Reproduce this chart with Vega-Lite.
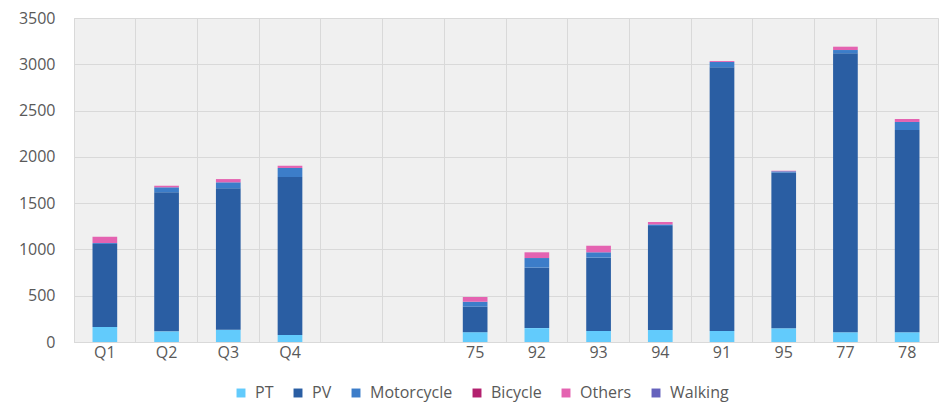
{
  "$schema": "https://vega.github.io/schema/vega-lite/v6.json",
  "autosize": {"type": "none"},
  "width": 864,
  "height": 324,
  "padding": {"left": 74, "top": 18, "right": 2, "bottom": 67},
  "background": "#ffffff",
  "config": {
    "font": "Open Sans",
    "view": {"fill": "#f0f0f0", "stroke": "#d9d9d9", "strokeWidth": 1}
  },
  "data": {
    "values": [
      {"site": "Q1", "mode": "PT", "value": 162}, {"site": "Q1", "mode": "PV", "value": 897}, {"site": "Q1", "mode": "Motorcycle", "value": 10}, {"site": "Q1", "mode": "Bicycle", "value": 0}, {"site": "Q1", "mode": "Others", "value": 68}, {"site": "Q1", "mode": "Walking", "value": 0},
      {"site": "Q2", "mode": "PT", "value": 115}, {"site": "Q2", "mode": "PV", "value": 1502}, {"site": "Q2", "mode": "Motorcycle", "value": 54}, {"site": "Q2", "mode": "Bicycle", "value": 0}, {"site": "Q2", "mode": "Others", "value": 17}, {"site": "Q2", "mode": "Walking", "value": 0},
      {"site": "Q3", "mode": "PT", "value": 133}, {"site": "Q3", "mode": "PV", "value": 1527}, {"site": "Q3", "mode": "Motorcycle", "value": 65}, {"site": "Q3", "mode": "Bicycle", "value": 0}, {"site": "Q3", "mode": "Others", "value": 35}, {"site": "Q3", "mode": "Walking", "value": 0},
      {"site": "Q4", "mode": "PT", "value": 76}, {"site": "Q4", "mode": "PV", "value": 1706}, {"site": "Q4", "mode": "Motorcycle", "value": 98}, {"site": "Q4", "mode": "Bicycle", "value": 0}, {"site": "Q4", "mode": "Others", "value": 24}, {"site": "Q4", "mode": "Walking", "value": 0},
      {"site": "75", "mode": "PT", "value": 106}, {"site": "75", "mode": "PV", "value": 275}, {"site": "75", "mode": "Motorcycle", "value": 54}, {"site": "75", "mode": "Bicycle", "value": 0}, {"site": "75", "mode": "Others", "value": 51}, {"site": "75", "mode": "Walking", "value": 0},
      {"site": "92", "mode": "PT", "value": 150}, {"site": "92", "mode": "PV", "value": 653}, {"site": "92", "mode": "Motorcycle", "value": 104}, {"site": "92", "mode": "Bicycle", "value": 0}, {"site": "92", "mode": "Others", "value": 62}, {"site": "92", "mode": "Walking", "value": 0},
      {"site": "93", "mode": "PT", "value": 119}, {"site": "93", "mode": "PV", "value": 792}, {"site": "93", "mode": "Motorcycle", "value": 58}, {"site": "93", "mode": "Bicycle", "value": 0}, {"site": "93", "mode": "Others", "value": 71}, {"site": "93", "mode": "Walking", "value": 0},
      {"site": "94", "mode": "PT", "value": 130}, {"site": "94", "mode": "PV", "value": 1123}, {"site": "94", "mode": "Motorcycle", "value": 17}, {"site": "94", "mode": "Bicycle", "value": 0}, {"site": "94", "mode": "Others", "value": 26}, {"site": "94", "mode": "Walking", "value": 0},
      {"site": "91", "mode": "PT", "value": 119}, {"site": "91", "mode": "PV", "value": 2848}, {"site": "91", "mode": "Motorcycle", "value": 58}, {"site": "91", "mode": "Bicycle", "value": 0}, {"site": "91", "mode": "Others", "value": 10}, {"site": "91", "mode": "Walking", "value": 0},
      {"site": "95", "mode": "PT", "value": 148}, {"site": "95", "mode": "PV", "value": 1681}, {"site": "95", "mode": "Motorcycle", "value": 15}, {"site": "95", "mode": "Bicycle", "value": 0}, {"site": "95", "mode": "Others", "value": 6}, {"site": "95", "mode": "Walking", "value": 0},
      {"site": "77", "mode": "PT", "value": 105}, {"site": "77", "mode": "PV", "value": 3013}, {"site": "77", "mode": "Motorcycle", "value": 36}, {"site": "77", "mode": "Bicycle", "value": 0}, {"site": "77", "mode": "Others", "value": 36}, {"site": "77", "mode": "Walking", "value": 0},
      {"site": "78", "mode": "PT", "value": 105}, {"site": "78", "mode": "PV", "value": 2185}, {"site": "78", "mode": "Motorcycle", "value": 87}, {"site": "78", "mode": "Bicycle", "value": 0}, {"site": "78", "mode": "Others", "value": 32}, {"site": "78", "mode": "Walking", "value": 0}
    ]
  },
  "transform": [
    {"calculate": "datum.mode == 'PT' ? 0 : datum.mode == 'PV' ? 1 : datum.mode == 'Motorcycle' ? 2 : datum.mode == 'Bicycle' ? 3 : datum.mode == 'Others' ? 4 : 5", "as": "ord"}
  ],
  "mark": {"type": "bar", "width": {"band": 0.4}},
  "encoding": {
    "x": {
      "field": "site",
      "type": "nominal",
      "scale": {
        "domain": ["Q1", "Q2", "Q3", "Q4", "gap1", "gap2", "75", "92", "93", "94", "91", "95", "77", "78"],
        "paddingInner": 0,
        "paddingOuter": 0
      },
      "axis": {
        "title": null,
        "labelAngle": 0,
        "labelExpr": "datum.value == 'gap1' || datum.value == 'gap2' ? '' : datum.value",
        "labelFontSize": 16,
        "labelColor": "#595959",
        "labelPadding": 2,
        "ticks": false,
        "domain": true,
        "domainColor": "#d9d9d9",
        "grid": true,
        "gridColor": "#d9d9d9",
        "bandPosition": 0
      }
    },
    "y": {
      "field": "value",
      "type": "quantitative",
      "scale": {"domain": [0, 3500], "nice": false},
      "axis": {
        "title": null,
        "tickCount": 7,
        "format": "d",
        "labelFontSize": 16,
        "labelColor": "#595959",
        "labelPadding": 19,
        "ticks": false,
        "domain": false,
        "grid": true,
        "gridColor": "#d9d9d9"
      }
    },
    "color": {
      "field": "mode",
      "type": "nominal",
      "scale": {
        "domain": ["PT", "PV", "Motorcycle", "Bicycle", "Others", "Walking"],
        "range": ["#62CBFC", "#2A5EA3", "#3C7DC9", "#B3216F", "#E463B1", "#6562BD"]
      },
      "legend": {
        "title": null,
        "orient": "none",
        "direction": "horizontal",
        "legendX": 159,
        "legendY": 367,
        "symbolType": "square",
        "symbolSize": 80,
        "symbolStrokeWidth": 0,
        "labelFontSize": 16,
        "labelColor": "#595959",
        "columnPadding": 16,
        "labelOffset": 6
      }
    },
    "order": {"field": "ord", "type": "quantitative"}
  }
}
